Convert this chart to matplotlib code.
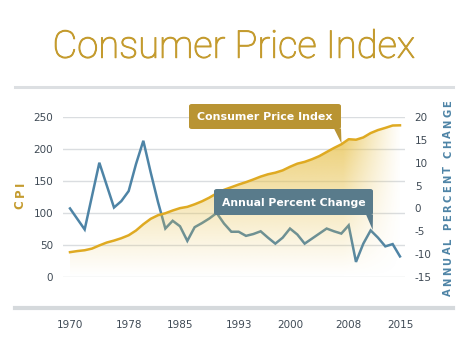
import numpy as np
import matplotlib
matplotlib.use("Agg")
import matplotlib.pyplot as plt
from matplotlib.patches import Polygon, FancyBboxPatch
from matplotlib.lines import Line2D
import matplotlib.patheffects as pe

years = list(range(1970, 2016))
cpi = [38.8, 40.5, 41.8, 44.4, 49.3, 53.8, 56.9, 60.6, 65.2, 72.6,
       82.4, 90.9, 96.5, 99.6, 103.9, 107.6, 109.6, 113.6, 118.3, 124.0,
       130.7, 136.2, 140.3, 144.5, 148.2, 152.4, 156.9, 160.5, 163.0, 166.6,
       172.2, 177.1, 179.9, 184.0, 188.9, 195.3, 201.6, 207.3, 215.3, 214.5,
       218.1, 224.9, 229.6, 233.0, 236.7, 237.0]
pct_change = [0.0, -2.3, -4.6, 2.7, 10.0, 5.1, 0.2, 1.6, 3.8, 9.7,
              14.8, 7.9, 1.4, -4.4, -2.7, -3.9, -7.1, -4.1, -3.2, -2.2,
              -1.0, -3.3, -5.1, -5.1, -6.0, -5.6, -5.0, -6.4, -7.7, -6.4,
              -4.4, -5.7, -7.7, -6.6, -5.5, -4.4, -5.0, -5.5, -3.7, -11.7,
              -7.7, -4.8, -6.4, -8.3, -7.8, -10.5]
xticks = [1970, 1978, 1985, 1993, 2000, 2008, 2015]
left_ticks = [0, 50, 100, 150, 200, 250]
right_ticks = [-15, -10, -5, 0, 5, 10, 15, 20]

W, H = 468, 352
GOLD = "#C49B2E"
GOLD_LINE = "#DFAA22"
GOLD_BOX = "#B99433"
BLUE = "#4E84A6"
BLUE_BOX = "#597B8B"
TICK = "#3F4A55"
GRID = "#DADDE0"

fig = plt.figure(figsize=(W / 100, H / 100), dpi=100)
fig.patch.set_facecolor("white")
renderer = fig.canvas.get_renderer()

def px(x, y):
    return x / W, 1 - y / H

def fit_text(x, y, s, target_w, size0, **kw):
    t = fig.text(*px(x, y), s, fontsize=size0, **kw)
    bb = t.get_window_extent(renderer=renderer)
    t.set_fontsize(size0 * target_w / bb.width)
    return t

def tracked_vertical(x, y_center, s, size, tracking, space_w, **kw):
    widths = []
    for ch in s:
        if ch == " ":
            widths.append(space_w)
            continue
        t = fig.text(0, 0, ch, fontsize=size, **kw)
        widths.append(t.get_window_extent(renderer=renderer).width)
        t.remove()
    total = sum(widths) + tracking * (len(s) - 1)
    pos = y_center + total / 2
    for ch, w in zip(s, widths):
        if ch != " ":
            fig.text(*px(x, pos - w / 2), ch, fontsize=size, rotation=90,
                     ha="center", va="center", **kw)
        pos -= w + tracking

# axes geometry in pixels
L, R, T, B = 63, 405, 117, 277
ax = fig.add_axes([L / W, 1 - B / H, (R - L) / W, (B - T) / H])
x0 = 1970 - (70 - L) / 7.333
x1 = 1970 + (R - 70) / 7.333
ax.set_xlim(x0, x1)
ax.set_ylim(0, 250)
for s in ax.spines.values():
    s.set_visible(False)
ax.set_yticks(left_ticks)
ax.set_yticklabels([str(v) for v in left_ticks])
ax.set_xticks(xticks)
ax.set_xticklabels([str(v) for v in xticks])
ax.tick_params(axis="both", length=0, colors=TICK, labelsize=7.5)
ax.tick_params(axis="y", pad=7)
ax.tick_params(axis="x", pad=31)
for lab in ax.get_xticklabels() + ax.get_yticklabels():
    lab.set_fontfamily("DejaVu Sans")
ax.grid(axis="y", color=GRID, lw=1)
ax.set_axisbelow(True)

ax2 = ax.twinx()
ax2.set_ylim(-15, 20)
ax2.set_yticks(right_ticks)
ax2.set_yticklabels([str(v) for v in right_ticks])
ax2.tick_params(axis="y", length=0, colors=TICK, labelsize=7.5, pad=7)
for s in ax2.spines.values():
    s.set_visible(False)
for lab in ax2.get_yticklabels():
    lab.set_fontfamily("DejaVu Sans")
ax2.set_zorder(ax.get_zorder() + 1)
ax2.patch.set_visible(False)

# blue line on right axis
ax2.plot(years, pct_change, color=BLUE, lw=1.8, zorder=2, solid_joinstyle="miter")

# gradient fill
ny, nx = 200, 400
gx = np.linspace(1970, 2015, nx)
gy = np.linspace(0, 250, ny)
GX, GY = np.meshgrid(gx, gy)
alpha_v = np.clip(GY / 235.0, 0, 1) ** 1.1 * 0.85
alpha_h = np.clip((2015.3 - GX) / 8.0, 0, 1) ** 1.2
alpha = alpha_v * alpha_h
rgba = np.zeros((ny, nx, 4))
c = matplotlib.colors.to_rgb("#E8C24E")
rgba[..., 0], rgba[..., 1], rgba[..., 2] = c
rgba[..., 3] = alpha
im = ax2.imshow(rgba, extent=(1970, 2015, 0, 250), origin="lower",
                aspect="auto", transform=ax.transData, zorder=3,
                interpolation="bilinear")
poly_pts = [(years[0], 0)] + list(zip(years, cpi)) + [(years[-1], 0)]
poly = Polygon(poly_pts, closed=True, transform=ax.transData,
               facecolor="none", edgecolor="none")
ax2.add_patch(poly)
im.set_clip_path(poly)
ax2.set_xlim(x0, x1)
ax2.set_ylim(-15, 20)

# CPI line on top
ax2.plot(years, cpi, color=GOLD_LINE, lw=1.8, zorder=4, transform=ax.transData)

# Axis labels (letter-spaced)
tracked_vertical(20, 195, "CPI", 8.5, 3.0, 4, color=GOLD, fontweight="bold",
                 family="DejaVu Sans")
tracked_vertical(448, 198, "ANNUAL PERCENT CHANGE", 7.2, 2.2, 3.5, color=BLUE,
                 fontweight="bold", family="DejaVu Sans")

# Title
fig.text(*px(234, 47), "Consumer Price Index", fontsize=27.5, color=GOLD,
         ha="center", va="center", family="Roboto", fontweight="light",
         path_effects=[pe.withStroke(linewidth=0.7, foreground=GOLD)])
fig.add_artist(Line2D([15 / W, 453 / W], [1 - 87 / H, 1 - 87 / H],
                      color="#DCDFE2", lw=2.2, transform=fig.transFigure))
fig.add_artist(Line2D([15 / W, 453 / W], [1 - 308 / H, 1 - 308 / H],
                      color="#D5D9DC", lw=3, transform=fig.transFigure))

# Callout boxes
def callout(x_l, x_r, y_t, y_b, tail_x0, tip, color, text, text_w):
    box = FancyBboxPatch(px(x_l, y_b), (x_r - x_l) / W, (y_b - y_t) / H,
                         boxstyle="round,pad=0,rounding_size=0.006",
                         transform=fig.transFigure, facecolor=color,
                         edgecolor="none", zorder=10)
    fig.add_artist(box)
    tail = Polygon([px(tail_x0, y_b - 0.5), px(x_r, y_b - 0.5), px(*tip)],
                   closed=True, transform=fig.transFigure, facecolor=color,
                   edgecolor="none", zorder=10)
    fig.add_artist(tail)
    fit_text((x_l + x_r) / 2, (y_t + y_b) / 2 + 0.5, text, text_w, 8.3,
             color="white", fontweight="bold", ha="center", va="center",
             family="DejaVu Sans", zorder=11)

callout(189, 341, 104, 129, 334, (341.5, 143.5), GOLD_BOX, "Consumer Price Index", 135)
callout(214, 373, 189, 215, 366, (372.7, 230), BLUE_BOX, "Annual Percent Change", 144)

fig.savefig("out.png", dpi=100, facecolor="white")
